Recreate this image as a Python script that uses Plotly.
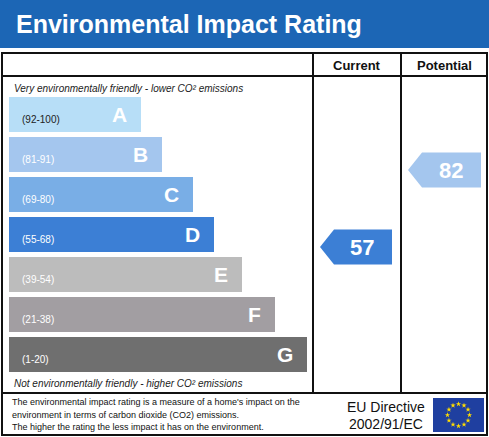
import plotly.graph_objects as go
import numpy as np

bands = ["A", "B", "C", "D", "E", "F", "G"]
ranges = ["(92-100)", "(81-91)", "(69-80)", "(55-68)", "(39-54)", "(21-38)", "(1-20)"]
band_len = [132, 153, 184, 205, 233, 266, 298]
colors = ["#b7def7", "#a4c6ee", "#79aee6", "#3c7fd5", "#bcbcbc", "#a29ea2", "#6f6f6f"]
current = 57
potential = 82

W, H = 489, 437
fig = go.Figure()
shapes = []
ann = []
FONT = "Liberation Sans, Arial, sans-serif"

shapes.append(dict(type="rect", x0=0, x1=W, y0=0, y1=48, fillcolor="#1c66b5", line_width=0, layer="below"))
ann.append(dict(x=14, y=24, text="<b>Environmental Impact Rating</b>", showarrow=False, xanchor="left",
                font=dict(family=FONT, size=25, color="white")))
lc = dict(color="#111", width=2)
shapes += [
    dict(type="rect", x0=2, x1=487, y0=53, y1=435, line=lc),
    dict(type="line", x0=2, x1=487, y0=76, y1=76, line=lc),
    dict(type="line", x0=2, x1=487, y0=393, y1=393, line=lc),
    dict(type="line", x0=313, x1=313, y0=53, y1=393, line=lc),
    dict(type="line", x0=401, x1=401, y0=53, y1=393, line=lc),
]
ann.append(dict(x=357, y=65, text="<b>Current</b>", showarrow=False, font=dict(family=FONT, size=13, color="#111")))
ann.append(dict(x=444, y=65, text="<b>Potential</b>", showarrow=False, font=dict(family=FONT, size=13, color="#111")))
ann.append(dict(x=12, y=88, text="<i>Very environmentally friendly - lower CO² emissions</i>", showarrow=False,
                xanchor="left", font=dict(family=FONT, size=10, color="#222")))
ann.append(dict(x=12, y=383, text="<i>Not environmentally friendly - higher CO² emissions</i>", showarrow=False,
                xanchor="left", font=dict(family=FONT, size=10, color="#222")))

ycent = [114.5 + 40 * i for i in range(len(bands))]
fig.add_trace(go.Bar(x=band_len, y=ycent, base=9, orientation="h", width=35,
                     marker=dict(color=colors, line_width=0), hoverinfo="skip"))
for i, (b, r) in enumerate(zip(bands, ranges)):
    ann.append(dict(x=20, y=ycent[i] + 5, text=r, showarrow=False, xanchor="left",
                    font=dict(family=FONT, size=10, color="white" if i != 0 else "#222")))
    ann.append(dict(x=9 + band_len[i] - 12, y=ycent[i], text="<b>%s</b>" % b, showarrow=False, xanchor="right",
                    font=dict(family=FONT, size=21, color="white")))

def score_y(s):
    return 422.6 - 3.08 * s

def band_of(s):
    lows = [92, 81, 69, 55, 39, 21, 1]
    for i, l in enumerate(lows):
        if s >= l:
            return i
    return 6

for val, x0, x1 in [(current, 320, 392), (potential, 408, 481)]:
    yc = score_y(val)
    h = 17.5
    path = f"M {x0},{yc} L {x0+14},{yc-h} L {x1},{yc-h} L {x1},{yc+h} L {x0+14},{yc+h} Z"
    shapes.append(dict(type="path", path=path, fillcolor=colors[band_of(val)], line_width=0))
    ann.append(dict(x=(x0 + x1) / 2 + 6, y=yc, text="<b>%d</b>" % val, showarrow=False,
                    font=dict(family=FONT, size=22, color="white")))

foot = ["The environmental impact rating is a measure of a home's impact on the",
        "environment in terms of carbon dioxide (CO2) emissions.",
        "The higher the rating the less impact it has on the environment."]
for i, t in enumerate(foot):
    ann.append(dict(x=10, y=402 + 12.5 * i, text=t, showarrow=False, xanchor="left",
                    font=dict(family=FONT, size=9, color="#111")))
ann.append(dict(x=386, y=407, text="EU Directive", showarrow=False, font=dict(family=FONT, size=14, color="#111")))
ann.append(dict(x=386, y=424, text="2002/91/EC", showarrow=False, font=dict(family=FONT, size=14, color="#111")))
shapes.append(dict(type="rect", x0=433, x1=484, y0=398, y1=432, fillcolor="#1f3fa0", line_width=0, layer="below"))
ang = np.linspace(0, 2 * np.pi, 13)[:-1]
fig.add_trace(go.Scatter(x=458.5 + 11 * np.cos(ang), y=415 + 11 * np.sin(ang), mode="markers",
                         marker=dict(symbol="star", size=4, color="#ffdd00"), hoverinfo="skip"))

fig.update_layout(width=W, height=H, margin=dict(l=0, r=0, t=0, b=0), showlegend=False,
                  plot_bgcolor="white", paper_bgcolor="white", shapes=shapes, annotations=ann,
                  xaxis=dict(range=[0, W], visible=False, fixedrange=True),
                  yaxis=dict(range=[H, 0], visible=False, fixedrange=True))
fig.write_html("out.html", config={"displayModeBar": False},
               post_script="document.body.style.margin='0';document.body.style.overflow='hidden';")
